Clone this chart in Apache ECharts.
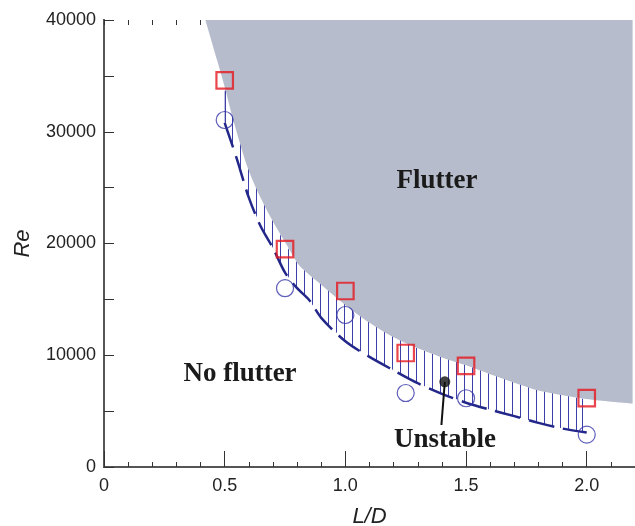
<!DOCTYPE html>
<html><head><meta charset="utf-8">
<script src="https://cdn.jsdelivr.net/npm/echarts@6.0.0/dist/echarts.min.js"></script>
<style>html,body{margin:0;padding:0;background:#fff}#c{width:635px;height:526px}</style>
</head><body><div id="c"></div>
<script>
// ---- data ----
const squareLD = [0.5, 0.75, 1.0, 1.25, 1.5, 2.0];
const squareRe = [34600, 19500, 15750, 10200, 9050, 6170];
const circleLD = [0.5, 0.75, 1.0, 1.25, 1.5, 2.0];
const circleRe = [31050, 16000, 13600, 6620, 6150, 2900];
// flutter boundary (grey region above it)
const flutterLD = [0.42, 0.47, 0.50, 0.535, 0.60, 0.674, 0.77, 0.81, 0.90, 1.00, 1.10, 1.20, 1.28, 1.40, 1.50, 1.60, 1.70, 1.80, 1.90, 2.00, 2.10, 2.19];
const flutterRe = [40000, 36300, 34000, 31100, 26500, 23000, 19400, 18000, 16300, 14500, 12900, 11600, 10800, 9800, 9100, 8300, 7550, 6850, 6420, 6080, 5850, 5680];
// lower (dashed) limit of the unstable band
const lowerLD = [0.50, 0.55, 0.60, 0.65, 0.70, 0.75, 0.80, 0.85, 0.90, 1.00, 1.10, 1.20, 1.30, 1.40, 1.50, 1.60, 1.70, 1.80, 1.90, 2.00];
const lowerRe = [30800, 27600, 24100, 21500, 19600, 17400, 16000, 14950, 13350, 11250, 9850, 8650, 7500, 6550, 5750, 5120, 4550, 3950, 3440, 3090];
// hatched band: lower / upper edges
const hatchLD   = [0.50, 0.55, 0.60, 0.65, 0.70, 0.75, 0.80, 0.85, 0.90, 1.00, 1.10, 1.20, 1.30, 1.40, 1.50, 1.60, 1.70, 1.80, 1.90, 1.98];
const hatchLow  = [30800, 27600, 24100, 21500, 19600, 17400, 16000, 14950, 13350, 11250, 9850, 8650, 7500, 6550, 5750, 5120, 4550, 3950, 3440, 3150];
const hatchHigh = [33700, 30300, 27000, 24200, 22000, 20000, 18300, 17200, 16400, 14600, 13000, 11700, 10600, 9850, 9150, 8350, 7600, 6900, 6450, 6120];
// "Unstable" marker and its leader
const unstablePt = [1.412, 7620];
const leaderEnd = [1.398, 3760];
const xTicks = [0, 0.5, 1.0, 1.5, 2.0];
const yTicks = [0, 10000, 20000, 30000, 40000];

const zip = (a, b) => a.map((v, i) => [v, b[i]]);

// hatch pattern (vertical thin lines)
const pc = document.createElement('canvas');
pc.width = 8; pc.height = 8;
const pctx = pc.getContext('2d');
pctx.fillStyle = '#3d40a8';
pctx.fillRect(0, 0, 1, 8);

const chart = echarts.init(document.getElementById('c'), null, {renderer: 'canvas'});
const SANS = 'Liberation Sans, Arial, sans-serif';
const SERIF = 'Liberation Serif, Times New Roman, serif';

const baseX = {type: 'value', min: 0, max: 2.2, splitLine: {show: false}};
const baseY = {type: 'value', min: 0, max: 40000, splitLine: {show: false}};
// tick-only axis: shifted into the plot by its tick length, ticks pointing back to the frame
const tickX = (pos, interval, len) => Object.assign({}, baseX, {
  position: pos, offset: -len, interval: interval,
  axisLine: {show: false}, axisLabel: {show: false},
  axisTick: {show: true, inside: false, length: len, lineStyle: {color: '#333', width: 1}}
});
const tickY = (pos, interval, len) => Object.assign({}, baseY, {
  position: pos, offset: -len, interval: interval,
  axisLine: {show: false}, axisLabel: {show: false},
  axisTick: {show: true, inside: false, length: len, lineStyle: {color: '#333', width: 1}}
});

const option = {
  animation: false,
  backgroundColor: '#fff',
  grid: {left: 104, top: 20, right: 0, bottom: 59, containLabel: false, outerBoundsMode: 'none'},
  xAxis: [
    Object.assign({}, baseX, {
      position: 'bottom', interval: 0.5,
      axisLine: {show: true, lineStyle: {color: '#2c4a3a', width: 2}},
      axisTick: {show: false},
      axisLabel: {show: true, fontSize: 18, color: '#222', fontFamily: SANS, margin: 10,
        formatter: v => xTicks.indexOf(Math.round(v * 10) / 10) >= 0 ? (v === 0 ? '0' : v.toFixed(1)) : ''},
      name: 'L/D', nameLocation: 'middle', nameGap: 39,
      nameTextStyle: {fontSize: 22, fontStyle: 'italic', color: '#222', fontFamily: SANS}
    }),
    tickX('bottom', 0.5, 9),
    tickX('bottom', 0.1, 5),
    Object.assign({}, baseX, {
      position: 'top',
      axisLine: {show: true, lineStyle: {color: '#555', width: 2}}, axisLabel: {show: false},
      axisTick: {show: false}
    }),
    tickX('top', 0.5, 8),
    tickX('top', 0.1, 5)
  ],
  yAxis: [
    Object.assign({}, baseY, {
      position: 'left', interval: 10000,
      axisLine: {show: true, lineStyle: {color: '#444', width: 2}},
      axisTick: {show: false},
      axisLabel: {show: true, fontSize: 18, color: '#222', fontFamily: SANS, margin: 8,
        formatter: v => String(v)},
      name: 'Re', nameLocation: 'middle', nameGap: 70,
      nameTextStyle: {fontSize: 22, fontStyle: 'italic', color: '#222', fontFamily: SANS}
    }),
    tickY('left', 10000, 9),
    tickY('left', 5000, 5),
    Object.assign({}, baseY, {
      position: 'right',
      axisLine: {show: true, lineStyle: {color: '#555', width: 2}}, axisLabel: {show: false},
      axisTick: {show: false}
    }),
    tickY('right', 5000, 5)
  ],
  series: [
    {
      type: 'custom', z: 1, silent: true,
      data: [[0]],
      renderItem: function (params, api) {
        const n = hatchLD.length;
        const up = [], lo = [];
        for (let i = 0; i < n; i++) {
          up.push(api.coord([hatchLD[i], hatchHigh[i]]));
          lo.push(api.coord([hatchLD[i], hatchLow[i]]));
        }
        const pts = up.concat(lo.slice().reverse());
        const xl = Math.round(up[0][0]) + 0.5, xr = Math.round(up[n - 1][0]) + 0.5;
        return {
          type: 'group',
          children: [
            {type: 'polygon', shape: {points: pts}, style: {fill: {image: pc, repeat: 'repeat'}, stroke: null}},
            {type: 'line', shape: {x1: xl, y1: up[0][1], x2: xl, y2: lo[0][1]}, style: {stroke: '#3d40a8', lineWidth: 1}},
            {type: 'line', shape: {x1: xr, y1: up[n - 1][1], x2: xr, y2: lo[n - 1][1]}, style: {stroke: '#3d40a8', lineWidth: 1}}
          ]
        };
      }
    },
    {
      type: 'line', z: 2, silent: true, smooth: 0.3, showSymbol: false,
      data: zip(flutterLD, flutterRe),
      lineStyle: {width: 0, color: '#b6bccb'},
      areaStyle: {origin: 'end', color: '#b6bccb', opacity: 1}
    },
    {
      type: 'line', z: 3, silent: true, smooth: 0.3, showSymbol: false,
      data: zip(lowerLD, lowerRe),
      lineStyle: {width: 2.5, color: '#23278a', type: [26, 9], cap: 'butt'}
    },
    {
      type: 'scatter', z: 4, silent: true, symbol: 'circle', symbolSize: 17,
      data: zip(circleLD, circleRe),
      itemStyle: {color: 'rgba(0,0,0,0)', borderColor: '#3535a8', borderWidth: 1.2}
    },
    {
      type: 'scatter', z: 5, silent: true, symbol: 'rect', symbolSize: 16.5,
      data: zip(squareLD, squareRe),
      itemStyle: {color: 'rgba(0,0,0,0)', borderColor: '#e5161f', borderWidth: 2.2}
    },
    {
      type: 'line', z: 5, silent: true, showSymbol: false,
      data: [unstablePt, leaderEnd],
      lineStyle: {width: 2, color: '#111'}
    },
    {
      type: 'scatter', z: 6, silent: true, symbol: 'circle', symbolSize: 11,
      data: [unstablePt],
      itemStyle: {color: '#111'}
    }
  ],
  graphic: [
    {type: 'text', x: 437, y: 181, z: 10, style: {text: 'Flutter', font: 'bold 27px ' + SERIF, fill: '#1a1a1a', textAlign: 'center', textVerticalAlign: 'middle', verticalAlign: 'middle'}},
    {type: 'text', x: 240, y: 374, z: 10, style: {text: 'No flutter', font: 'bold 27px ' + SERIF, fill: '#1a1a1a', textAlign: 'center', textVerticalAlign: 'middle', verticalAlign: 'middle'}},
    {type: 'text', x: 445, y: 440, z: 10, style: {text: 'Unstable', font: 'bold 27px ' + SERIF, fill: '#1a1a1a', textAlign: 'center', textVerticalAlign: 'middle', verticalAlign: 'middle'}}
  ]
};
chart.setOption(option);
</script>
</body></html>
